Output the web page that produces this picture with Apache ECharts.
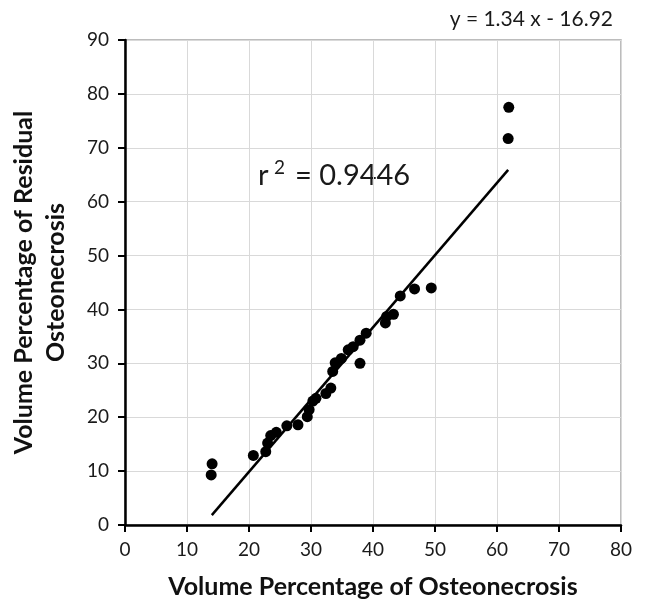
<!DOCTYPE html>
<html><head><meta charset="utf-8">
<script src="https://cdn.jsdelivr.net/npm/echarts@6/dist/echarts.min.js"></script>
<style>html,body{margin:0;padding:0;background:#fff}#c{width:646px;height:604px}</style>
</head><body><div id="c"></div>
<script>
var xVals = [14.05,13.9,20.7,22.7,23.0,23.5,24.4,26.1,27.9,29.4,29.7,30.3,30.8,32.4,33.2,33.5,33.9,34.9,36.0,36.8,37.9,37.9,38.9,42.0,42.2,43.3,44.4,46.7,49.4,61.9,61.8];
var yVals = [11.35,9.3,12.9,13.6,15.2,16.6,17.2,18.4,18.6,20.1,21.4,23.0,23.5,24.4,25.4,28.5,30.1,30.9,32.5,33.1,30.0,34.3,35.6,37.5,38.7,39.1,42.5,43.8,44.0,77.5,71.7];
var trendX = [14, 61.8];
var trendY = [1.84, 65.9];
var eqText = 'y = 1.34 x - 16.92';
var r2Value = '0.9446';

var pts = xVals.map(function(x,i){return [x,yVals[i]];});
var line = trendX.map(function(x,i){return [x,trendY[i]];});
var FONT = 'Lato';
var chart = echarts.init(document.getElementById('c'));
chart.setOption({
  animation:false,
  textStyle:{fontFamily:FONT},
  grid:{left:125,right:25,top:40,bottom:77,show:true,borderColor:'#a6a6a6',borderWidth:1.5},
  xAxis:{type:'value',min:0,max:80,interval:10,
    name:'Volume Percentage of Osteonecrosis',nameLocation:'middle',nameGap:49,
    nameTextStyle:{fontSize:25,fontWeight:'bold',color:'#111',lineHeight:25,fontFamily:FONT},
    axisLine:{show:true,onZero:false,lineStyle:{color:'#000',width:2.5}},
    axisTick:{show:true,length:7,lineStyle:{color:'#000',width:2}},
    axisLabel:{fontSize:19,color:'#1a1a1a',margin:15,fontFamily:FONT},
    splitLine:{show:true,lineStyle:{color:'#d9d9d9',width:1}}},
  yAxis:{type:'value',min:0,max:90,interval:10,
    name:'Volume Percentage of Residual\nOsteonecrosis',nameLocation:'middle',nameGap:53,
    nameTextStyle:{fontSize:25,fontWeight:'bold',color:'#111',lineHeight:32,fontFamily:FONT},
    axisLine:{show:true,onZero:false,lineStyle:{color:'#000',width:2.5}},
    axisTick:{show:true,length:7,lineStyle:{color:'#000',width:2}},
    axisLabel:{fontSize:19,color:'#1a1a1a',margin:16,fontFamily:FONT},
    splitLine:{show:true,lineStyle:{color:'#d9d9d9',width:1}}},
  series:[
    {type:'line',data:line,symbol:'none',lineStyle:{color:'#000',width:2.5},z:2},
    {type:'scatter',data:pts,symbol:'circle',symbolSize:11,itemStyle:{color:'#000',opacity:1},z:3}
  ],
  graphic:[
    {type:'text',x:613,y:19,style:{text:eqText,fontSize:21,fill:'#1a1a1a',fontFamily:FONT,align:'right',verticalAlign:'middle'}},
    {type:'text',x:258,y:176,style:{text:'r',fontSize:29,fill:'#1a1a1a',fontFamily:FONT,align:'left',verticalAlign:'middle'}},
    {type:'text',x:274,y:168,style:{text:'2',fontSize:19,fill:'#1a1a1a',fontFamily:FONT,align:'left',verticalAlign:'middle'}},
    {type:'text',x:295,y:176,style:{text:'= '+r2Value,fontSize:29,fill:'#1a1a1a',fontFamily:FONT,align:'left',verticalAlign:'middle'}}
  ]
});
</script></body></html>
